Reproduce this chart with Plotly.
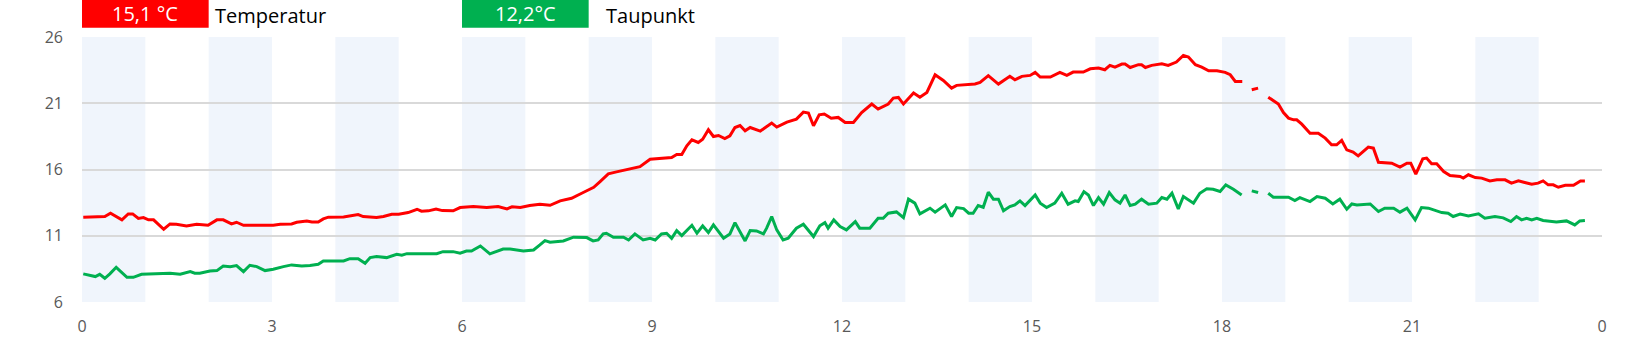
import plotly.graph_objects as go

# Temperatur (red) - time in hours, value in °C ; None = gap
temp_hours = [0.02,0.2,0.36,0.45,0.63,0.73,0.8,0.89,0.97,1.05,1.13,1.29,1.39,1.49,1.65,1.81,1.99,2.13,2.23,2.36,2.44,2.55,2.81,
              3.02,3.13,3.31,3.39,3.55,3.63,3.73,3.81,3.89,4.13,4.23,4.36,4.44,4.65,4.76,4.89,5.0,5.15,5.29,5.36,5.47,5.59,5.69,5.86,
              5.97,6.18,6.39,6.57,6.71,6.79,6.92,7.07,7.23,7.39,7.55,7.73,7.89,8.08,8.18,8.31,8.44,8.57,8.71,8.81,
              8.97,9.13,9.31,9.39,9.47,9.55,9.63,9.73,9.8,9.89,9.97,10.05,10.15,10.23,10.31,10.39,10.47,10.55,10.71,10.89,10.97,
              11.13,11.28,11.39,11.47,11.55,11.64,11.72,11.83,11.94,12.05,12.18,12.31,12.47,12.57,12.73,12.81,12.89,12.97,
              13.13,13.23,13.34,13.47,13.6,13.73,13.81,13.97,14.1,14.18,14.31,14.47,14.65,14.73,14.84,14.97,15.05,15.13,15.29,
              15.44,15.55,15.65,15.81,15.92,16.05,16.15,16.23,16.31,16.42,16.47,16.55,16.68,16.73,16.79,16.89,17.05,17.15,17.28,
              17.39,17.47,17.58,17.68,17.79,17.92,18.05,18.13,18.21,18.32,18.4,18.47,18.57,18.65,18.73,18.81,18.89,18.97,19.05,
              19.13,19.18,19.26,19.39,19.52,19.63,19.73,19.81,19.89,19.97,20.07,20.15,20.31,20.39,20.47,20.68,20.81,20.92,20.98,
              21.06,21.17,21.23,21.31,21.39,21.5,21.6,21.76,21.81,21.89,22.0,22.1,22.23,22.34,22.47,22.57,22.68,22.78,22.89,22.99,
              23.07,23.15,23.23,23.31,23.42,23.55,23.66,23.73]
temp_values = [12.40,12.40,12.45,12.70,12.20,12.65,12.65,12.30,12.37,12.20,12.20,11.49,11.89,11.87,11.74,11.87,11.79,12.20,12.20,11.89,12.02,11.79,11.79,
               11.79,11.87,11.89,12.02,12.12,12.04,12.04,12.27,12.40,12.42,12.50,12.60,12.45,12.37,12.45,12.62,12.62,12.75,13.00,12.85,12.88,13.02,12.90,12.88,
               13.13,13.20,13.13,13.20,13.03,13.18,13.13,13.28,13.38,13.30,13.63,13.83,14.21,14.66,15.09,15.67,15.82,15.95,16.07,16.22,
               16.78,16.86,16.91,17.13,17.13,17.79,18.24,18.04,18.29,19.00,18.49,18.57,18.34,18.54,19.17,19.32,18.92,19.17,18.90,19.50,19.20,
               19.58,19.80,20.33,20.26,19.30,20.13,20.19,19.87,19.93,19.55,19.55,20.30,20.94,20.56,20.94,21.39,21.44,20.94,
               21.77,21.46,21.82,23.15,22.72,22.14,22.35,22.40,22.45,22.57,23.08,22.45,23.03,22.77,23.03,23.10,23.33,22.98,22.98,
               23.33,23.10,23.35,23.35,23.60,23.66,23.53,23.86,23.73,23.96,23.96,23.70,23.91,23.91,23.70,23.86,23.98,23.86,24.11,
               24.61,24.49,23.91,23.72,23.45,23.45,23.33,23.15,22.65,22.65,None,22.02,22.14,None,21.46,21.19,20.94,20.30,19.88,
               19.75,19.75,19.42,18.74,18.74,18.37,17.86,17.86,18.19,17.48,17.31,17.03,17.69,17.61,16.55,16.48,16.18,16.48,16.48,
               15.65,16.81,16.86,16.43,16.43,15.85,15.54,15.47,15.35,15.60,15.39,15.35,15.14,15.22,15.22,14.97,15.14,15.02,14.89,14.97,
               15.14,14.84,14.84,14.66,14.81,14.81,15.14,15.14]

# Taupunkt (green)
dew_hours = [0.02,0.21,0.28,0.36,0.44,0.54,0.71,0.81,0.94,1.23,1.39,1.55,1.71,1.78,1.86,2.02,2.13,2.23,2.34,2.44,2.55,2.65,2.76,2.89,
             3.02,3.18,3.31,3.47,3.6,3.73,3.81,4.13,4.23,4.36,4.47,4.55,4.65,4.81,4.97,5.05,5.13,5.6,5.7,5.86,5.97,6.07,6.15,6.29,6.44,
             6.65,6.76,6.97,7.13,7.23,7.31,7.39,7.6,7.76,7.92,7.97,8.07,8.15,8.23,8.28,8.39,8.55,8.63,8.73,8.86,8.97,9.05,9.15,9.23,
             9.31,9.39,9.47,9.63,9.71,9.8,9.89,9.97,10.13,10.23,10.31,10.47,10.55,10.65,10.76,10.81,10.89,10.97,11.07,11.15,11.28,
             11.39,11.55,11.65,11.73,11.78,11.87,11.97,12.07,12.21,12.28,12.44,12.57,12.65,12.73,12.86,12.97,13.05,13.15,13.23,13.39,
             13.47,13.63,13.73,13.81,13.92,14.0,14.07,14.15,14.23,14.31,14.39,14.47,14.55,14.65,14.73,14.81,14.89,15.05,15.13,15.23,
             15.36,15.47,15.57,15.68,15.73,15.82,15.89,15.97,16.05,16.13,16.22,16.31,16.39,16.47,16.55,16.63,16.73,16.84,16.97,17.05,
             17.13,17.21,17.31,17.39,17.55,17.65,17.76,17.86,17.97,18.06,18.18,18.31,18.4,18.47,18.57,18.65,18.73,18.81,19.05,19.15,
             19.23,19.39,19.5,19.63,19.75,19.86,19.97,20.05,20.13,20.34,20.47,20.57,20.71,20.81,20.92,21.05,21.15,21.26,21.47,21.57,
             21.65,21.76,21.89,22.05,22.15,22.31,22.44,22.56,22.65,22.73,22.81,22.89,22.97,23.07,23.28,23.44,23.57,23.65,23.73]
dew_values = [8.12,7.92,8.09,7.79,8.12,8.62,7.86,7.86,8.09,8.12,8.17,8.09,8.29,8.17,8.17,8.34,8.37,8.72,8.67,8.75,8.29,8.77,8.67,8.37,
              8.47,8.67,8.80,8.72,8.75,8.85,9.10,9.10,9.27,9.27,8.92,9.35,9.43,9.35,9.60,9.53,9.65,9.65,9.80,9.80,9.68,9.85,9.85,10.23,9.63,
              10.00,10.00,9.85,9.93,10.31,10.63,10.51,10.61,10.89,10.86,10.86,10.61,10.68,11.14,11.19,10.89,10.89,10.68,11.14,10.68,10.81,10.68,11.14,11.19,
              10.81,11.39,11.01,11.79,11.19,11.74,11.24,11.82,10.81,11.14,11.99,10.61,11.39,11.36,11.14,11.57,12.45,11.44,10.68,10.81,11.57,
              11.87,10.94,11.75,11.99,11.57,12.20,11.69,11.44,12.07,11.57,11.57,12.32,12.32,12.70,12.80,12.37,13.76,13.46,12.65,13.08,
              12.78,13.33,12.45,13.13,13.05,12.70,12.70,13.28,13.15,14.29,13.76,13.76,12.88,13.20,13.33,13.63,13.28,14.08,13.46,13.13,
              13.46,14.21,13.38,13.63,13.58,14.33,14.08,13.28,13.88,13.38,14.26,13.71,13.46,14.08,13.28,13.38,13.76,13.38,13.46,13.88,
              13.76,14.21,13.03,13.96,13.46,14.21,14.54,14.51,14.34,14.84,14.51,14.08,None,14.39,14.26,None,14.21,13.91,13.91,13.66,
              13.88,13.58,13.96,13.83,13.40,13.76,13.00,13.40,13.33,13.40,12.83,13.08,13.08,12.78,13.08,12.20,13.13,13.08,12.75,12.70,
              12.45,12.63,12.50,12.65,12.32,12.45,12.35,12.07,12.45,12.20,12.32,12.20,12.32,12.15,12.04,12.12,11.82,12.12,12.15]

x_tickvals = [0, 3, 6, 9, 12, 15, 18, 21, 24]
x_ticktext = ["0", "3", "6", "9", "12", "15", "18", "21", "0"]
y_tickvals = [6, 11, 16, 21, 26]
band_hours = [0, 2, 4, 6, 8, 10, 12, 14, 16, 18, 20, 22]

legend_labels = ["Temperatur", "Taupunkt"]
legend_values = ["15,1 °C", "12,2°C"]
legend_colors = ["#FF0000", "#00B050"]
legend_box_hours = [0, 6]
legend_text_hours = [2.07, 8.24]

fig = go.Figure()
fig.add_trace(go.Scatter(x=temp_hours, y=temp_values, mode="lines",
                         line=dict(color="#FF0000", width=3), connectgaps=False, showlegend=False))
fig.add_trace(go.Scatter(x=dew_hours, y=dew_values, mode="lines",
                         line=dict(color="#00B050", width=3), connectgaps=False, showlegend=False))

shapes = []
for h in band_hours:
    shapes.append(dict(type="rect", xref="x", yref="y", x0=h, x1=h + 1, y0=6, y1=26,
                       fillcolor="#F0F5FC", line=dict(width=0), layer="below"))
for b, c in zip(legend_box_hours, legend_colors):
    shapes.append(dict(type="rect", xref="x", yref="paper", x0=b, x1=b + 2, y0=1.035, y1=1.14,
                       fillcolor=c, line=dict(width=0), layer="above"))

annotations = []
for b, v, t, th in zip(legend_box_hours, legend_values, legend_labels, legend_text_hours):
    annotations.append(dict(x=b + 1, y=1.087, xref="x", yref="paper", text=v, showarrow=False,
                            xanchor="center", yanchor="middle",
                            font=dict(family="Open Sans", size=20, color="white")))
    annotations.append(dict(x=th, y=1.08, xref="x", yref="paper", text=t, showarrow=False,
                            xanchor="left", yanchor="middle",
                            font=dict(family="Open Sans", size=20, color="black")))

fig.update_layout(
    width=1645, height=340,
    margin=dict(l=82, r=43, t=37, b=38, autoexpand=False),
    paper_bgcolor="white", plot_bgcolor="white",
    shapes=shapes, annotations=annotations,
    font=dict(family="Open Sans", size=16, color="#595959"),
    xaxis=dict(range=[0, 24], tickvals=x_tickvals, ticktext=x_ticktext, showgrid=False,
               zeroline=False, showline=False, ticks="", ticklabelstandoff=13, fixedrange=True,
               automargin=False),
    yaxis=dict(range=[6, 26], tickvals=y_tickvals, showgrid=True, gridcolor="#D9D9D9", gridwidth=2,
               zeroline=False, showline=False, ticks="", ticklabelstandoff=18, fixedrange=True,
               automargin=False),
)

fig.write_html("out.html")
